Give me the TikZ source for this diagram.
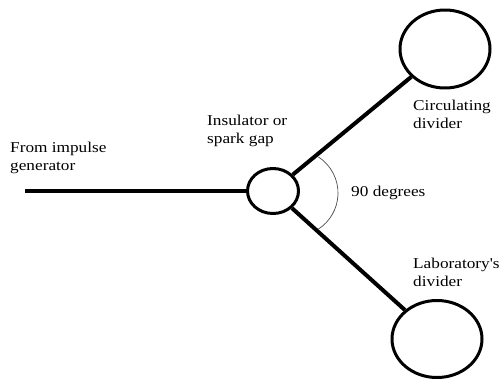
\documentclass[tikz,border=0pt]{standalone}
\usepackage{fontspec}
\setmainfont{Liberation Serif}
\newfontfamily\lblfont[FakeStretch=1.15]{Liberation Serif}
\usetikzlibrary{shapes.geometric}

\begin{document}
\begin{tikzpicture}[x=1pt, y=-1pt, line join=round,
      lbl/.style={anchor=base west, align=left, inner sep=0pt, font=\lblfont\fontsize{15}{18}\selectfont},
      ring/.style={draw, ellipse, line width=3pt, inner sep=0pt},
      lead/.style={line width=4pt}]
    \useasboundingbox (0,0) rectangle (503,380);
    % spark gap and the two dividers
    \node[ring, minimum width=51, minimum height=45] (gap) at (273,191) {};
    \node[ring, minimum width=90, minimum height=78] (circ) at (445,49) {};
    \node[ring, minimum width=90, minimum height=77] (lab) at (437,339) {};
    \coordinate (gen) at (25,191);
    \coordinate (vertex) at (295,193);
    \draw[lead] (gen) -- (gap);
    \draw[lead] (gap) -- (circ);
    \draw[lead] (gap) -- (lab);
    % angle between the two leads
    \draw[line width=0.7pt, black!70] (vertex) ++(-57:43) arc[start angle=-57, end angle=57, radius=43];
    % labels, placed by the baseline of their last line
    \node[lbl] (genlbl) at (10,170) {From impulse\\generator};
    \node[lbl] (gaplbl) at (207,143) {Insulator or\\spark gap};
    \node[lbl] (anglbl) at (351,196) {90 degrees};
    \node[lbl] (circlbl) at (413,128) {Circulating\\divider};
    \node[lbl] (lablbl) at (413,286) {Laboratory's\\divider};
\end{tikzpicture}
\end{document}
